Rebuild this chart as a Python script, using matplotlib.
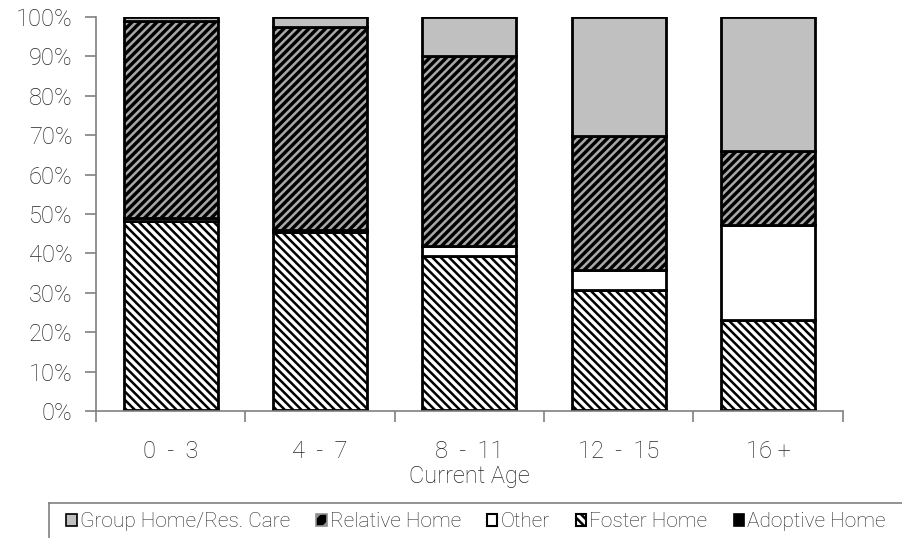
import matplotlib
matplotlib.use('Agg')
import matplotlib.pyplot as plt
from matplotlib.patches import Patch
from matplotlib.lines import Line2D
import numpy as np

ages = ['0 - 3', '4 - 7', '8 - 11', '12 - 15', '16 +']
adoptive = [0.3, 0.3, 0.3, 0.3, 0.3]
foster = [48.0, 45.1, 39.0, 30.5, 22.9]
other = [0.8, 0.5, 2.5, 5.1, 24.1]
relative = [49.9, 51.6, 48.2, 34.0, 18.7]
group = [1.0, 2.5, 10.0, 30.1, 34.0]

series = [
    ('Adoptive Home', adoptive, 'black', None, 'black'),
    ('Foster Home', foster, 'white', '\\\\\\\\', 'black'),
    ('Other', other, 'white', None, 'white'),
    ('Relative Home', relative, 'black', '////', '#a8a8a8'),
    ('Group Home/Res. Care', group, '#c0c0c0', None, '#c0c0c0'),
]

plt.rcParams['font.family'] = ['Roboto', 'DejaVu Sans']
plt.rcParams['hatch.linewidth'] = 1.8

fig = plt.figure(figsize=(9.02, 5.38), dpi=100)
ax = fig.add_axes([0.1064, 0.236, 0.828, 0.7325])

x = np.arange(len(ages))
w = 0.63
bottom = np.zeros(len(ages))
for name, vals, fc, hatch, hc in series:
    vals = np.array(vals)
    ax.bar(x, vals, w, bottom=bottom, color=fc, hatch=hatch, edgecolor=hc, linewidth=0)
    ax.bar(x, vals, w, bottom=bottom, fill=False, edgecolor='black', linewidth=2)
    bottom += vals

txt = dict(fontsize=17, fontweight='light', color='#262626')
ax.set_xlim(-0.5, len(ages) - 0.5)
ax.set_ylim(0, 100)
ax.set_yticks(range(0, 101, 10))
ax.set_yticklabels(['%d%%' % v for v in range(0, 101, 10)], **txt)
ax.set_xticks(x)
ax.set_xticklabels([a.replace(' - ', '  -  ') for a in ages], **txt)
ax.set_xticks(np.arange(-0.5, len(ages)), minor=True)
ax.tick_params(axis='x', which='major', length=0, pad=21)
ax.tick_params(axis='x', which='minor', length=8, width=1.2, color='#808080', direction='out')
ax.tick_params(axis='y', length=8, width=1.2, color='#808080', pad=9)
for s in ['top', 'right']:
    ax.spines[s].set_visible(False)
for s in ['left', 'bottom']:
    ax.spines[s].set_color('#808080')
    ax.spines[s].set_linewidth(1.2)
ax.set_xlabel('Current Age', labelpad=1, **txt)

# legend frame (cut off at the figure edge)
fig.add_artist(Line2D([0.054, 1.0], [0.065, 0.065], transform=fig.transFigure, color='#808080', lw=1.2))
fig.add_artist(Line2D([0.054, 0.054], [0.0, 0.065], transform=fig.transFigure, color='#808080', lw=1.2))

handles = [
    Patch(facecolor='#c0c0c0', edgecolor='black', linewidth=1.2, label='Group Home/Res. Care'),
    Patch(facecolor='black', hatch='//', edgecolor='#909090', linewidth=1.2, label='Relative Home'),
    Patch(facecolor='white', edgecolor='black', linewidth=1.5, label='Other'),
    Patch(facecolor='white', hatch='\\\\\\\\', edgecolor='black', linewidth=1.5, label='Foster Home'),
    Patch(facecolor='black', edgecolor='black', linewidth=1.2, label='Adoptive Home'),
]
fig.legend(handles=handles, loc='center left', bbox_to_anchor=(0.062, 0.03), ncol=5,
           frameon=False, handlelength=0.5, handleheight=0.5, handletextpad=0.15,
           columnspacing=1.25, borderpad=0, labelcolor='#262626',
           prop={'family': ['Roboto', 'DejaVu Sans'], 'weight': 'light', 'size': 15})

fig.savefig('out.png', dpi=100)
